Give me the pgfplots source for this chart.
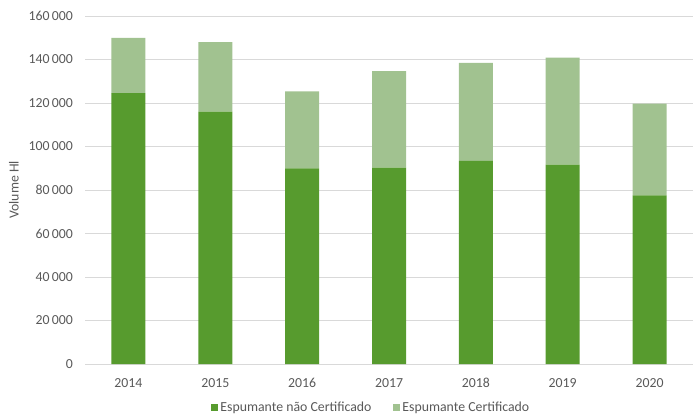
\documentclass[border=0pt]{standalone}
\usepackage{pgfplots}
\pgfplotsset{compat=1.18}
\usepackage{fontspec}
\setmainfont{Carlito}
\definecolor{darkg}{RGB}{87,155,46}
\definecolor{lightg}{RGB}{161,194,144}
\definecolor{txt}{RGB}{89,89,89}
\definecolor{gridc}{RGB}{217,217,217}

\begin{document}
\begin{tikzpicture}
\useasboundingbox (0,0) rectangle (693pt,416pt);
\begin{axis}[
    at={(85pt,52pt)}, anchor=south west,
    scale only axis, width=608pt, height=348pt,
    ybar stacked, bar width=34pt,
    xmin=-0.5, xmax=6.5, ymin=0, ymax=160000,
    xtick={0,1,2,3,4,5,6},
    xticklabels={2014,2015,2016,2017,2018,2019,2020},
    ytick={0,20000,40000,60000,80000,100000,120000,140000,160000},
    yticklabels={0,20\,000,40\,000,60\,000,80\,000,100\,000,120\,000,140\,000,160\,000},
    scaled y ticks=false,
    axis x line*=bottom, axis y line*=left,
    y axis line style={draw=none},
    x axis line style={draw=gridc, line width=0.8pt},
    major tick length=0pt,
    ymajorgrids, grid style={draw=gridc, line width=0.8pt},
    tick label style={font=\fontsize{13.8}{16}\selectfont, text=txt},
    yticklabel style={inner sep=0pt, xshift=-12pt},
    xticklabel style={inner sep=0pt, yshift=-14pt},
    ylabel={Volume Hl},
    ylabel style={at={(axis description cs:-0.117,0.5)}, anchor=center,
        font=\fontsize{13.8}{16}\selectfont, text=txt},
    legend style={at={(0.471,-0.126)}, anchor=center, draw=none,
        legend columns=2, font=\fontsize{13.8}{16}\selectfont, text=txt,
        /tikz/every even column/.append style={column sep=20pt}},
    legend image code/.code={\fill[#1] (0pt,-3.5pt) rectangle (7pt,3.5pt);},
]
\addplot[fill=darkg, draw=none] coordinates {
    (0,124500) (1,116000) (2,90000) (3,90300) (4,93400) (5,91700) (6,77500)};
\addlegendentry{Espumante não Certificado}
\addplot[fill=lightg, draw=none] coordinates {
    (0,25500) (1,32000) (2,35400) (3,44400) (4,45000) (5,49150) (6,42200)};
\addlegendentry{Espumante Certificado}
\end{axis}
\end{tikzpicture}
\end{document}
